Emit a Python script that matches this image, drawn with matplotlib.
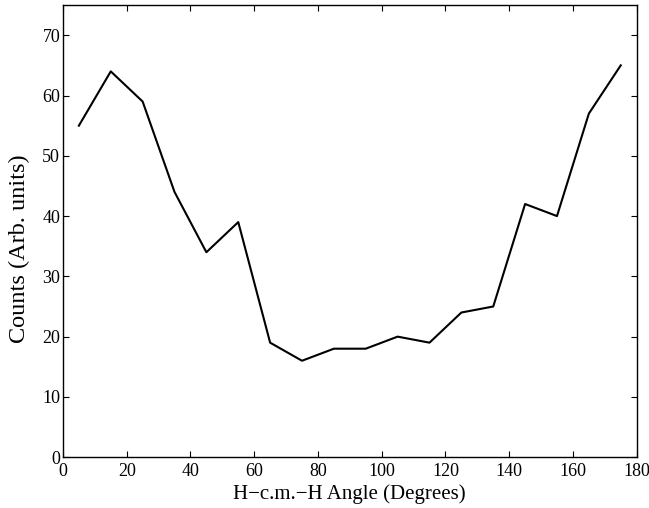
import matplotlib
matplotlib.use("Agg")
import matplotlib.pyplot as plt

# bin centres (degrees) and counts
angles = [5, 15, 25, 35, 45, 55, 65, 75, 85, 95, 105, 115, 125, 135, 145, 155, 165, 175]
counts = [55, 64, 59, 44, 34, 39, 19, 16, 18, 18, 20, 19, 24, 25, 42, 40, 57, 65]
xticks = [0, 20, 40, 60, 80, 100, 120, 140, 160, 180]
yticks = [0, 10, 20, 30, 40, 50, 60, 70]

plt.rcParams['font.family'] = ['Liberation Serif', 'DejaVu Serif']
plt.rcParams['font.size'] = 15

fig = plt.figure(figsize=(6.49, 5.08), dpi=100)
ax = fig.add_axes([0.097, 0.100, 0.884, 0.890])
ax.plot(angles, counts, color='black', lw=1.5)

ax.set_xlim(0, 180)
ax.set_ylim(0, 75)
ax.set_xticks(xticks)
ax.set_yticks(yticks)
ax.tick_params(direction='in', top=True, right=True, length=4, width=0.8,
               labelsize=13)
ax.tick_params(axis='x', pad=4)
ax.tick_params(axis='y', pad=2)
for s in ax.spines.values():
    s.set_linewidth(1.0)

ax.set_xlabel('H\u2212c.m.\u2212H Angle (Degrees)', fontsize=15, labelpad=3)
ax.set_ylabel('Counts (Arb. units)', fontsize=17.5)
ax.yaxis.set_label_coords(-0.058, 0.462)

plt.savefig('out.png', dpi=100)
